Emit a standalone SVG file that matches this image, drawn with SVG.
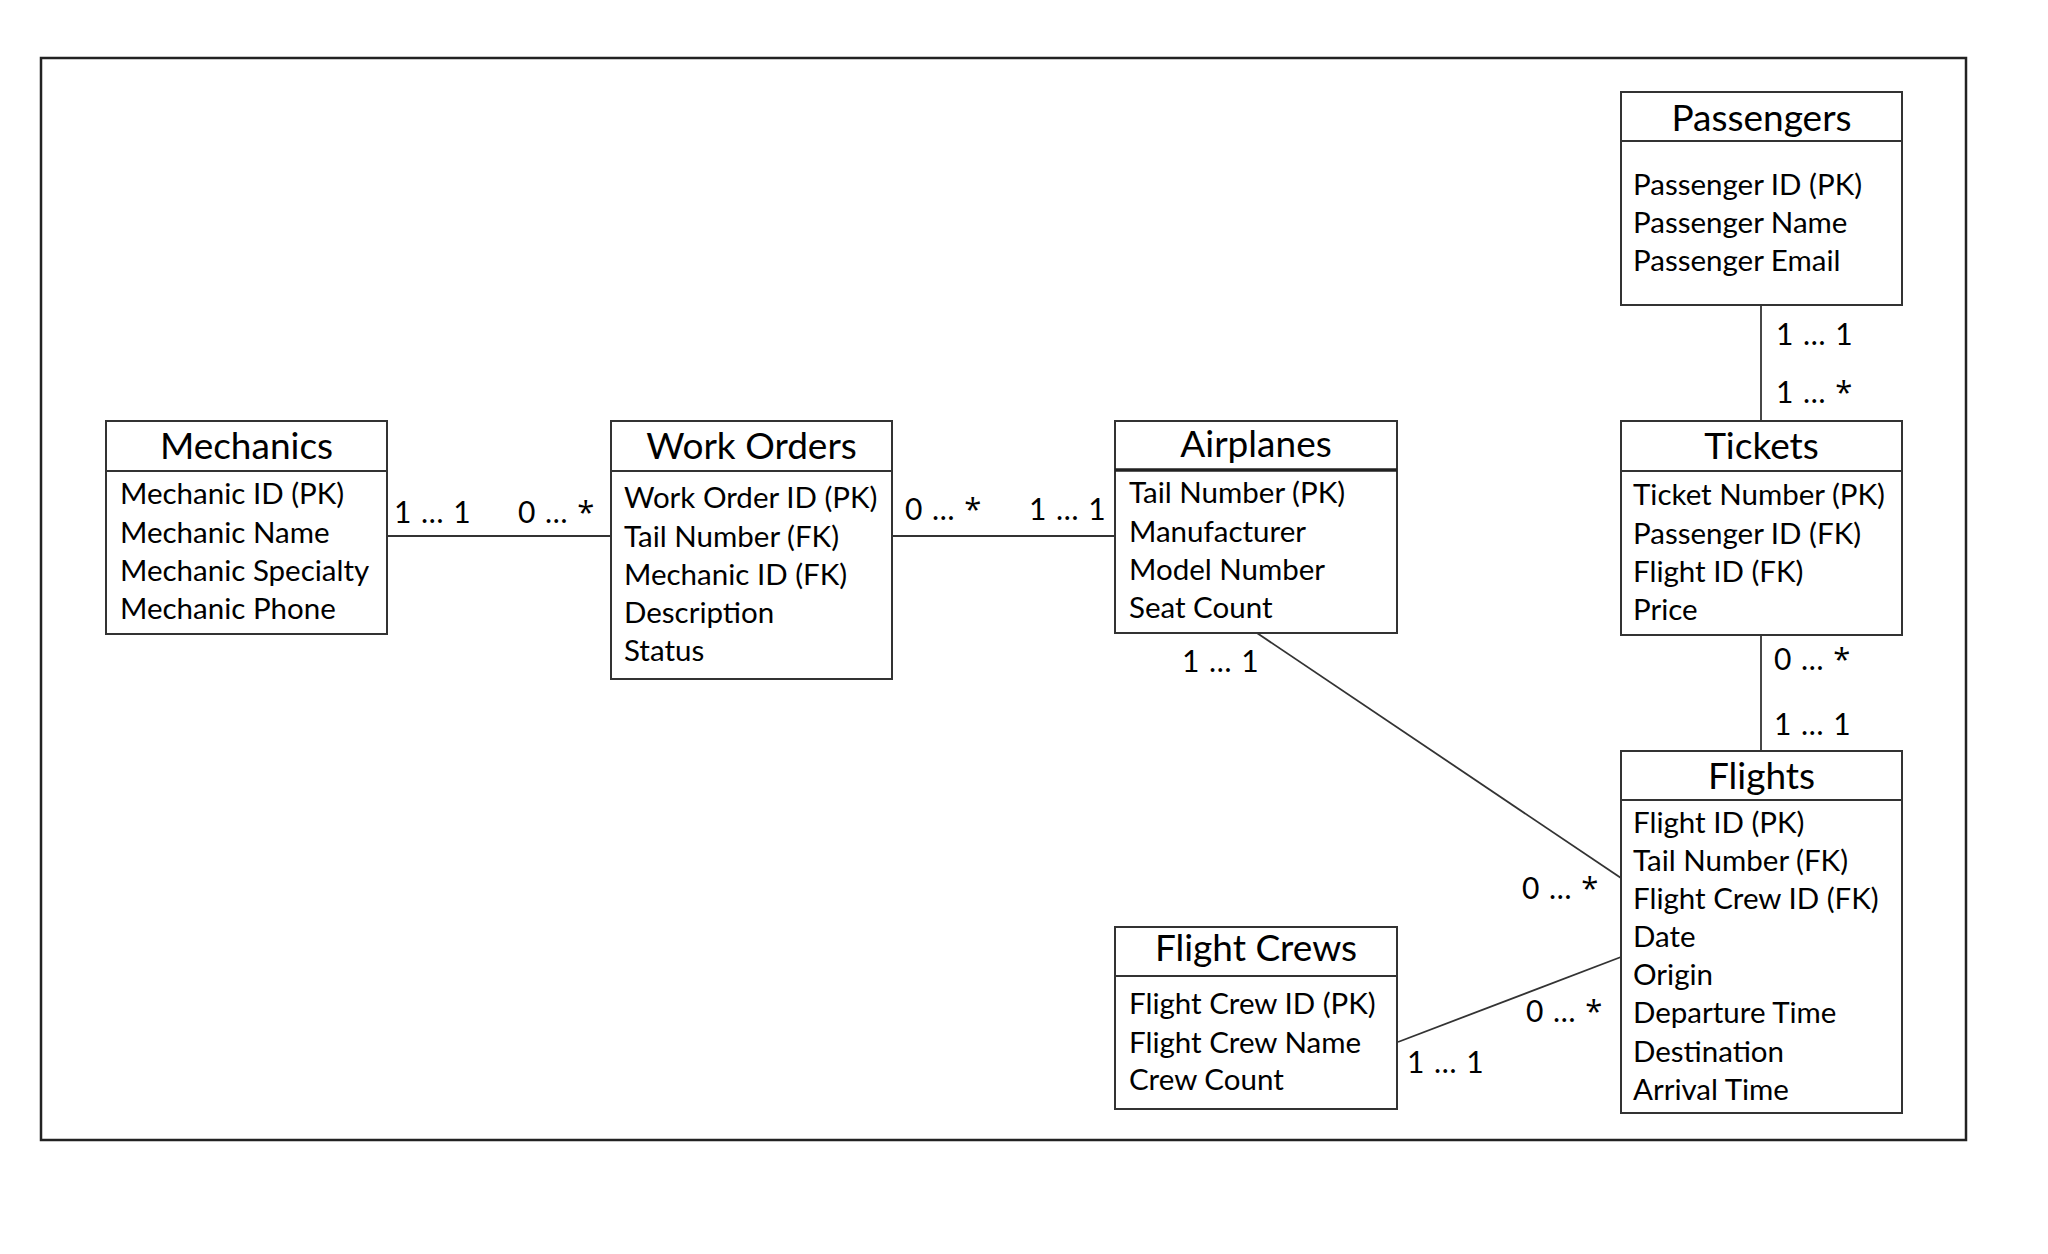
<svg xmlns="http://www.w3.org/2000/svg" width="2048" height="1254" viewBox="0 0 2048 1254">
<style>
.bg{fill:#fff}
.frame{fill:none;stroke:#222;stroke-width:2.5}
.box{fill:#fff;stroke:#333;stroke-width:2}
.sep{stroke:#333;stroke-width:2}
.sepb{stroke:#222;stroke-width:3.5}
.title{font-family:Lato,"Open Sans",sans-serif;font-size:37px;text-anchor:middle;fill:#000}
.attr{font-family:Lato,"Open Sans",sans-serif;font-size:29.5px;fill:#000}
.lbl{font-family:Lato,"Open Sans",sans-serif;font-size:30px;word-spacing:2px;fill:#000}
.ast{font-family:"Open Sans","Noto Sans",sans-serif;font-size:31px}
.conn{stroke:#333;stroke-width:1.8;fill:none}
</style>
<rect class="bg" x="0" y="0" width="2048" height="1254"/>
<rect class="frame" x="41" y="58" width="1925" height="1082"/>

<g id="connectors">
<line class="conn" x1="387" y1="536" x2="611" y2="536"/>
<line class="conn" x1="892" y1="536" x2="1115" y2="536"/>
<line class="conn" x1="1761" y1="305" x2="1761" y2="421"/>
<line class="conn" x1="1761" y1="635" x2="1761" y2="751"/>
<line class="conn" x1="1257" y1="633" x2="1621" y2="878"/>
<line class="conn" x1="1398" y1="1042" x2="1621" y2="957"/>
</g>

<g id="labels">
<text class="lbl" x="394" y="523">1 … 1</text>
<text class="lbl" x="518" y="523">0 … <tspan class="ast">*</tspan></text>
<text class="lbl" x="905" y="520">0 … <tspan class="ast">*</tspan></text>
<text class="lbl" x="1029" y="520">1 … 1</text>
<text class="lbl" x="1182" y="672">1 … 1</text>
<text class="lbl" x="1776" y="345">1 … 1</text>
<text class="lbl" x="1776" y="403">1 … <tspan class="ast">*</tspan></text>
<text class="lbl" x="1774" y="670">0 … <tspan class="ast">*</tspan></text>
<text class="lbl" x="1774" y="735">1 … 1</text>
<text class="lbl" x="1522" y="899">0 … <tspan class="ast">*</tspan></text>
<text class="lbl" x="1526" y="1022">0 … <tspan class="ast">*</tspan></text>
<text class="lbl" x="1407" y="1073">1 … 1</text>
</g>

<g id="mechanics">
<rect class="box" x="106" y="421" width="281" height="213"/>
<line class="sep" x1="106" y1="471" x2="387" y2="471"/>
<text class="title" x="246.5" y="459">Mechanics</text>
<text class="attr" x="120" y="504">Mechanic ID (PK)</text>
<text class="attr" x="120" y="543">Mechanic Name</text>
<text class="attr" x="120" y="581">Mechanic Specialty</text>
<text class="attr" x="120" y="619">Mechanic Phone</text>
</g>

<g id="work-orders">
<rect class="box" x="611" y="421" width="281" height="258"/>
<line class="sep" x1="611" y1="471" x2="892" y2="471"/>
<text class="title" x="751.5" y="459">Work Orders</text>
<text class="attr" x="624" y="508">Work Order ID (PK)</text>
<text class="attr" x="624" y="547">Tail Number (FK)</text>
<text class="attr" x="624" y="585">Mechanic ID (FK)</text>
<text class="attr" x="624" y="623">Description</text>
<text class="attr" x="624" y="661">Status</text>
</g>

<g id="airplanes">
<rect class="box" x="1115" y="421" width="282" height="212"/>
<line class="sepb" x1="1115" y1="470" x2="1397" y2="470"/>
<text class="title" x="1256" y="457">Airplanes</text>
<text class="attr" x="1129" y="503">Tail Number (PK)</text>
<text class="attr" x="1129" y="542">Manufacturer</text>
<text class="attr" x="1129" y="580">Model Number</text>
<text class="attr" x="1129" y="618">Seat Count</text>
</g>

<g id="passengers">
<rect class="box" x="1621" y="92" width="281" height="213"/>
<line class="sep" x1="1621" y1="141" x2="1902" y2="141"/>
<text class="title" x="1761.5" y="131">Passengers</text>
<text class="attr" x="1633" y="195">Passenger ID (PK)</text>
<text class="attr" x="1633" y="233">Passenger Name</text>
<text class="attr" x="1633" y="271">Passenger Email</text>
</g>

<g id="tickets">
<rect class="box" x="1621" y="421" width="281" height="214"/>
<line class="sep" x1="1621" y1="471" x2="1902" y2="471"/>
<text class="title" x="1761.5" y="459">Tickets</text>
<text class="attr" x="1633" y="505">Ticket Number (PK)</text>
<text class="attr" x="1633" y="544">Passenger ID (FK)</text>
<text class="attr" x="1633" y="582">Flight ID (FK)</text>
<text class="attr" x="1633" y="620">Price</text>
</g>

<g id="flights">
<rect class="box" x="1621" y="751" width="281" height="362"/>
<line class="sep" x1="1621" y1="800" x2="1902" y2="800"/>
<text class="title" x="1761.5" y="789">Flights</text>
<text class="attr" x="1633" y="833">Flight ID (PK)</text>
<text class="attr" x="1633" y="871">Tail Number (FK)</text>
<text class="attr" x="1633" y="909">Flight Crew ID (FK)</text>
<text class="attr" x="1633" y="947">Date</text>
<text class="attr" x="1633" y="985">Origin</text>
<text class="attr" x="1633" y="1023">Departure Time</text>
<text class="attr" x="1633" y="1062">Destination</text>
<text class="attr" x="1633" y="1100">Arrival Time</text>
</g>

<g id="flight-crews">
<rect class="box" x="1115" y="927" width="282" height="182"/>
<line class="sep" x1="1115" y1="976" x2="1397" y2="976"/>
<text class="title" x="1256" y="961">Flight Crews</text>
<text class="attr" x="1129" y="1014">Flight Crew ID (PK)</text>
<text class="attr" x="1129" y="1053">Flight Crew Name</text>
<text class="attr" x="1129" y="1090">Crew Count</text>
</g>
</svg>
